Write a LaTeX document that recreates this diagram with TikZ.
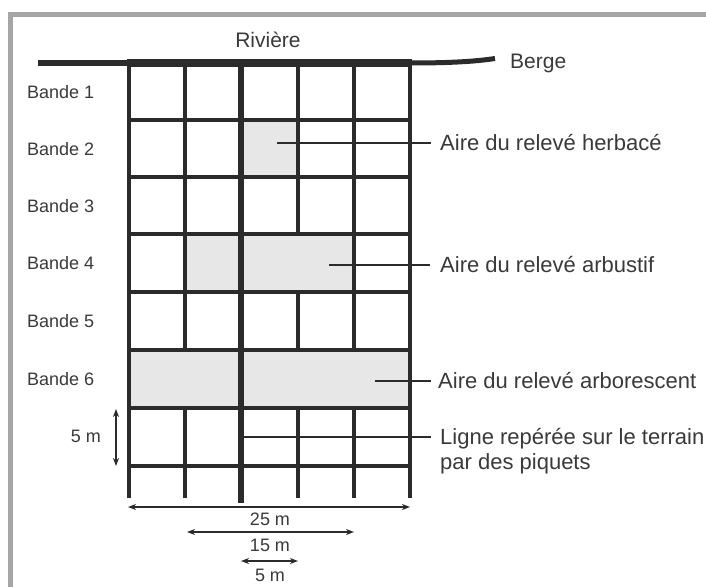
\documentclass[tikz,border=0pt]{standalone}
\usepackage{fontspec}
\setmainfont{Liberation Sans}
\usetikzlibrary{arrows.meta}
\definecolor{ink}{HTML}{2B2B2B}
\definecolor{txt}{HTML}{3A3A3A}
\definecolor{shadecol}{HTML}{E7E7E7}
\definecolor{framecol}{HTML}{A5A5A5}
\tikzset{
  gridline/.style={ink, line width=3.2pt, line cap=rect},
  midline/.style={ink, line width=5.5pt},
  leader/.style={ink, line width=1.3pt},
  dim/.style={ink, line width=1.4pt, {Stealth[length=8pt,width=6pt,inset=2.5pt]}-{Stealth[length=8pt,width=6pt,inset=2.5pt]}},
  rlabel/.style={text=txt, font=\fontsize{22}{26}\selectfont, inner sep=0pt, anchor=west, text height=15.8pt, text depth=0pt},
  blabel/.style={text=txt, font=\fontsize{18}{22}\selectfont, inner sep=0pt, anchor=west, text height=12.9pt, text depth=0pt},
  slabel/.style={text=txt, font=\fontsize{18}{22}\selectfont, inner sep=0pt, text height=12.9pt, text depth=0pt},
  tlabel/.style={text=txt, font=\fontsize{21}{25}\selectfont, inner sep=0pt, text height=15pt, text depth=0pt}
}
\begin{document}
\begin{tikzpicture}[x=1pt,y=-1pt]
\useasboundingbox (0,0) rectangle (706,586);
\fill[white] (0,0) rectangle (706,586);
% frame
\draw[framecol, line width=5pt] (10,590) -- (10,15) -- (710,15);

% shaded areas
\fill[shadecol] (241,120) rectangle (298,177);
\fill[shadecol] (185,234) rectangle (354,292);
\fill[shadecol] (129,350) rectangle (410,408);

% horizontal grid lines
\foreach \y in {120,177,234,292,350,408}
  \draw[gridline] (129,\y) -- (410,\y);
\draw[gridline, line width=3.8pt] (129,466) -- (410,466);

% vertical grid lines
\draw[gridline, line cap=butt] (129,63) -- (129,498);
\draw[gridline, line cap=butt] (410,63) -- (410,498);
\draw[gridline, line cap=butt] (185,63) -- (185,350) (185,408) -- (185,498);
\draw[gridline, line cap=butt] (298,63) -- (298,234) (298,292) -- (298,350) (298,408) -- (298,498);
\draw[gridline, line cap=butt] (354,63) -- (354,350) (354,408) -- (354,498);
\draw[midline] (241,63) -- (241,503);

% river bank line
\draw[ink, line width=5pt] (38,63) -- (129,63);
\draw[ink, line width=5pt] (410,63) .. controls (450,63) and (475,61.5) .. (495,58.5);
\draw[ink, line width=7.5pt] (127,63) -- (412,63);

% top labels
\node[tlabel] (riv) at (268,40) {Rivière};
\node[tlabel, anchor=west] (berge) at (510,61) {Berge};

% bande labels
\node[blabel] (b1) at (27,92) {Bande 1};
\node[blabel] (b2) at (27,149) {Bande 2};
\node[blabel] (b3) at (27,206) {Bande 3};
\node[blabel] (b4) at (27,263) {Bande 4};
\node[blabel] (b5) at (27,321) {Bande 5};
\node[blabel] (b6) at (27,379) {Bande 6};

% right labels and leaders
\coordinate (h1) at (277,143);
\node[rlabel] (herb) at (440,143) {Aire du relevé herbacé};
\draw[leader] (h1) -- ([xshift=-9pt]herb.west);

\coordinate (a1) at (329,265);
\node[rlabel] (arbu) at (440,265) {Aire du relevé arbustif};
\draw[leader] (a1) -- ([xshift=-10pt]arbu.west);

\coordinate (r1) at (375,381);
\node[rlabel] (arbo) at (438,381) {Aire du relevé arborescent};
\draw[leader] (r1) -- ([xshift=-7pt]arbo.west);

\coordinate (l1) at (243,437);
\node[rlabel] (ligne) at (440,437) {Ligne repérée sur le terrain};
\node[rlabel] (piq) at (440,462) {par des piquets};
\draw[leader] (l1) -- ([xshift=-9pt]ligne.west);

% dimensions
\coordinate (v1) at (116,409);
\coordinate (v2) at (116,466);
\draw[dim] (v1) -- (v2);
\node[slabel, anchor=east] (m5v) at (101,436) {5 m};

\coordinate (d25a) at (128,507);
\coordinate (d25b) at (410,507);
\draw[dim] (d25a) -- (d25b);
\node[slabel] (m25) at (270,519) {25 m};

\coordinate (d15a) at (187,532);
\coordinate (d15b) at (354,532);
\draw[dim] (d15a) -- (d15b);
\node[slabel] (m15) at (270,545) {15 m};

\coordinate (d5a) at (241,561);
\coordinate (d5b) at (298,561);
\draw[dim] (d5a) -- (d5b);
\node[slabel] (m5) at (270,575) {5 m};
\end{tikzpicture}
\end{document}
